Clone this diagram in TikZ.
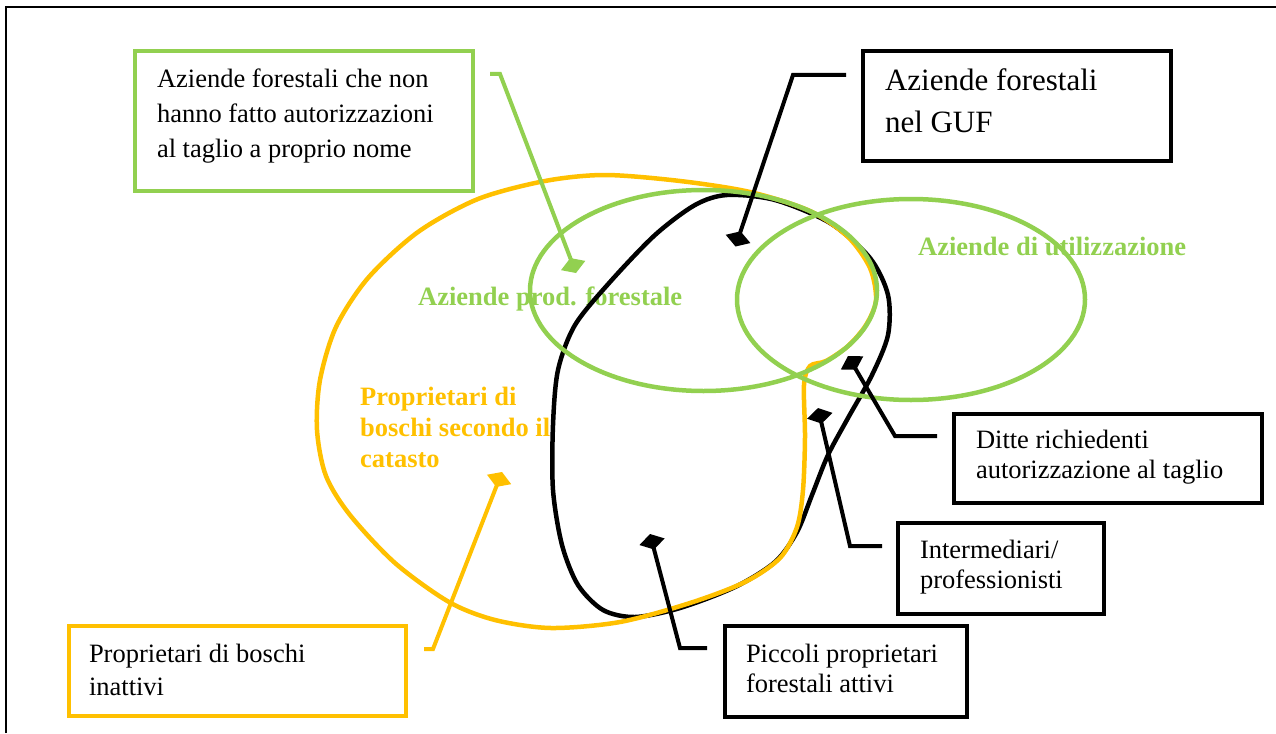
\documentclass[tikz,border=0pt]{standalone}
\usepackage{fontspec}
\setmainfont{Liberation Serif}
\usetikzlibrary{arrows.meta}
\definecolor{lgreen}{HTML}{92D050}
\definecolor{gold}{HTML}{FFC000}
% #1 width, #2 height, #3 left pad, #4 font size, #5 baselineskip, #6 top-to-first-baseline, #7 text
\newcommand\boxtxt[7]{\parbox[c][#2pt][t]{#1pt}{\fontsize{#4}{#5}\selectfont\leftskip=#3pt\rightskip=0pt plus 1fil\rule{0pt}{#6pt}#7}}
\tikzset{
  box/.style={draw, line width=4.5pt, inner sep=0pt},
  blackbox/.style={box, draw=black},
  greenbox/.style={box, draw=lgreen},
  goldbox/.style={box, draw=gold},
  curve/.style={line width=4.5pt},
  callout/.style={line width=4pt, -{Diamond[length=16pt,width=26pt,line width=0pt]}},
  glabel/.style={inner sep=0pt, anchor=base west, text=lgreen, font=\fontsize{26.5}{31}\selectfont\bfseries},
  ylabel/.style={inner sep=0pt, anchor=base west, text=gold, font=\fontsize{26.5}{31}\selectfont\bfseries},
}
\begin{document}
\begin{tikzpicture}[x=1pt,y=-1pt]
\useasboundingbox (0,0) rectangle (1276,733);
% frame
\draw[line width=2pt] (6,733) -- (6,7) -- (1276,7);

% labels
\node[glabel] (lprod) at (418,305) {Aziende prod. forestale};
\node[glabel] (lutil) at (918,255) {Aziende di utilizzazione};
\node[ylabel] (lprop) at (360,405) {\parbox[t]{260pt}{Proprietari di\\boschi secondo il\\catasto}};

% black set
\draw[curve, black] plot[smooth cycle, tension=0.5] coordinates {
 (727,195) (775,200) (830,223) (870,258) (888,295) (888,335)
 (872,375) (848,418) (828,455) (812,495) (797,532) (775,562)
 (735,587) (680,608) (635,617) (603,610) (578,585) (562,545)
 (553,490) (553,425) (558,370) (575,325) (610,282) (655,235)
 (695,205)};

% yellow set
\draw[curve, gold] plot[smooth cycle, tension=0.5] coordinates {
 (605,175) (680,181) (750,192) (810,211) (848,237) (870,268)
 (876,300) (866,325) (848,346) (826,361) (810,366) (804,385)
 (805,437) (803,490) (797,527) (780,558) (745,582) (690,603)
 (620,622) (551,628) (495,620) (449,602) (395,563) (350,515)
 (326,476) (317,430) (320,380) (336,327) (368,278) (418,232)
 (478,199) (545,181)};

% green sets
\draw[curve, lgreen] (703.5,290.5) ellipse [x radius=173.5pt, y radius=100.5pt];
\draw[curve, lgreen] (911,299.5) ellipse [x radius=174pt, y radius=100.5pt];

% boxes
\node[greenbox] (b1) at (304,121) {\boxtxt{338}{140}{22}{26.5}{35}{37}{Aziende forestali che non\\hanno fatto autorizzazioni\\al taglio a proprio nome}};
\node[blackbox] (b2) at (1017,106) {\boxtxt{308}{110}{22}{31}{42}{40}{Aziende forestali\\nel GUF}};
\node[blackbox] (b3) at (1108,458.5) {\boxtxt{308}{89}{22}{26.5}{30}{34}{Ditte richiedenti\\autorizzazione al taglio}};
\node[blackbox] (b4) at (1001,568.5) {\boxtxt{206}{91}{22}{26.5}{30}{35}{Intermediari/\\professionisti}};
\node[blackbox] (b5) at (846,671.5) {\boxtxt{242}{91}{21}{26.5}{30}{36}{Piccoli proprietari\\forestali attivi}};
\node[goldbox] (b6) at (237.5,671) {\boxtxt{337}{90}{20}{26.5}{33}{36}{Proprietari di boschi\\inattivi}};

% callouts
\coordinate (c1s) at (490,74);   \coordinate (c1e) at (576,273);
\coordinate (c2s) at (846,75);   \coordinate (c2e) at (735.5,246.5);
\coordinate (c3s) at (937,436);  \coordinate (c3e) at (848,356);
\coordinate (c4s) at (882,546);  \coordinate (c4e) at (818,408);
\coordinate (c5s) at (707,648);  \coordinate (c5e) at (650,534);
\coordinate (c6s) at (424,649);  \coordinate (c6e) at (502,472);
\draw[callout, lgreen] (c1s) -- ++(10,0) -- (c1e);
\draw[callout, black] (c2s) -- ++(-53,0) -- (c2e);
\draw[callout, black] (c3s) -- ++(-42,0) -- (c3e);
\draw[callout, black] (c4s) -- ++(-32,0) -- (c4e);
\draw[callout, black] (c5s) -- ++(-27,0) -- (c5e);
\draw[callout, gold] (c6s) -- ++(9,0) -- (c6e);
\end{tikzpicture}
\end{document}
